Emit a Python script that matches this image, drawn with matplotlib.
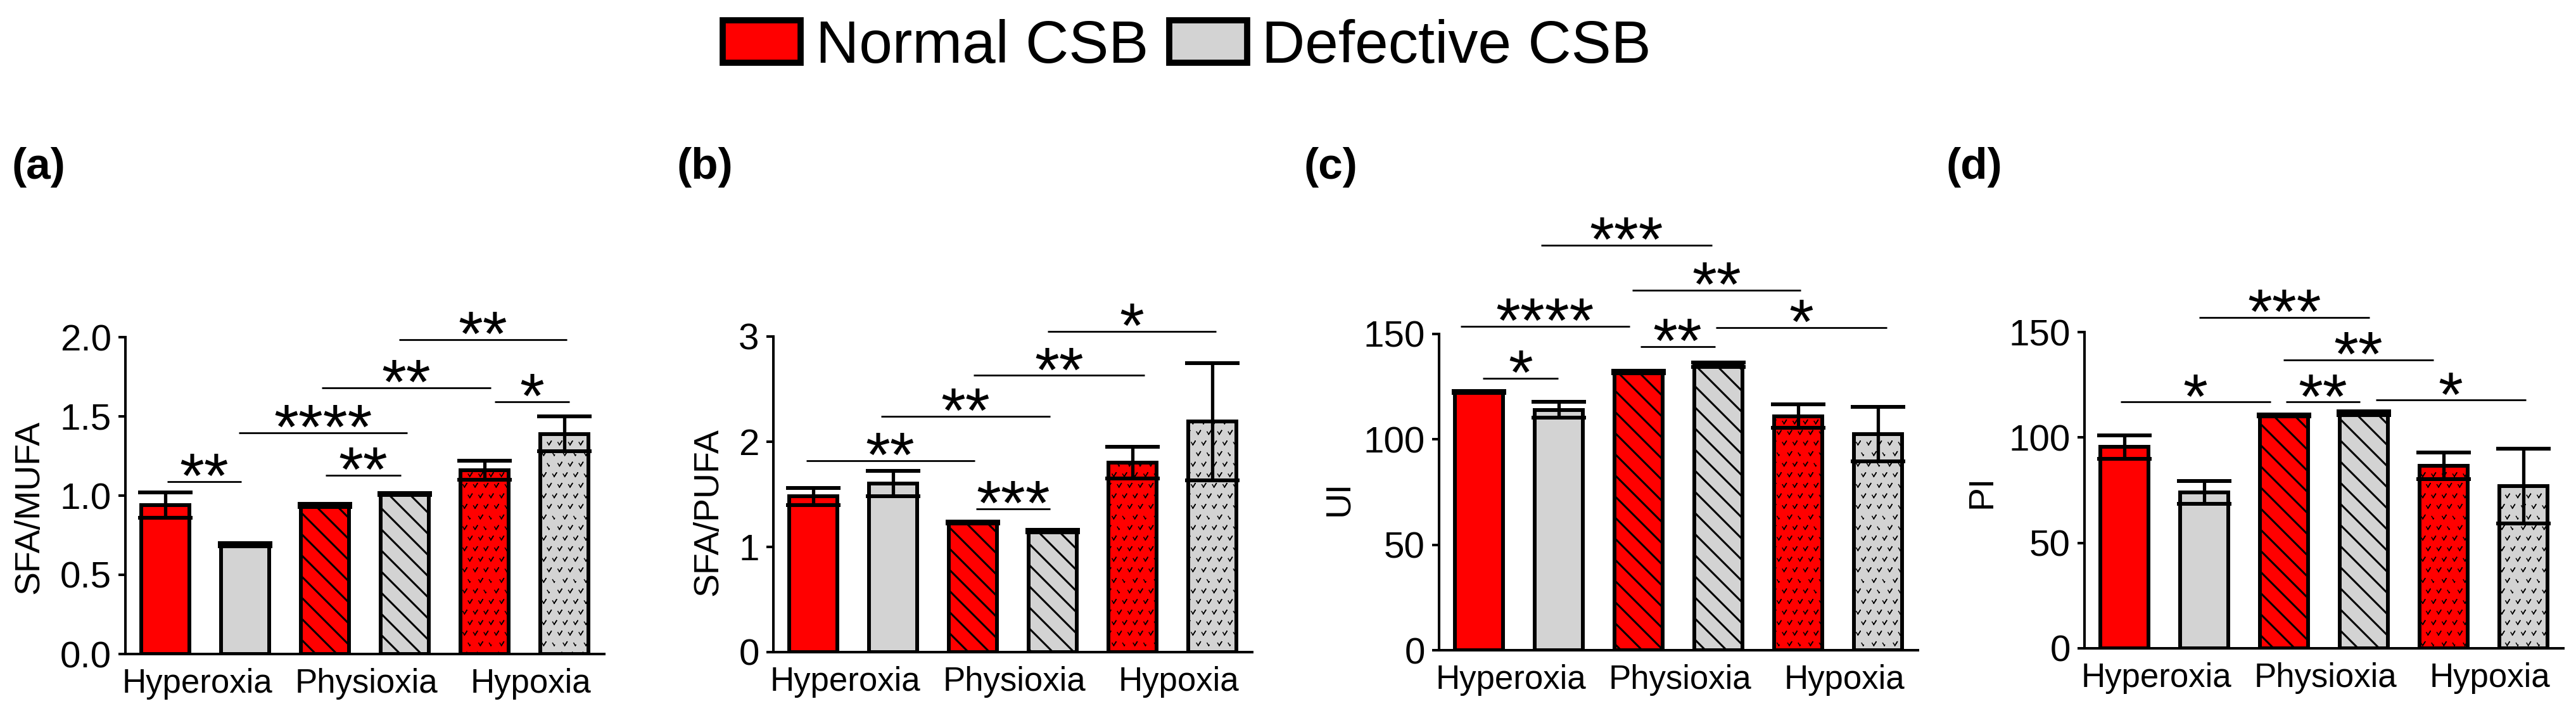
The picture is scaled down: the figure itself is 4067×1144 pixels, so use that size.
import numpy as np
import matplotlib
matplotlib.use('Agg')
import matplotlib.pyplot as plt
from matplotlib import hatch as mhatch
from matplotlib.path import Path
from matplotlib.patches import Patch

plt.rcParams['font.family'] = ['Liberation Sans', 'DejaVu Sans']
plt.rcParams['hatch.linewidth'] = 2.2


# small "v" marks used as the hypoxia texture (takes the place of the '*' hatch)
class VMarks(mhatch.Shapes):
    size = 0.3
    filled = True

    def __init__(self, hatch, density):
        # the row count has to stay even for the Shapes grid
        self.num_rows = int(hatch.count('*') * 6)
        self.shape_vertices = np.array([[-0.5, 0.4], [0.0, -0.4], [0.5, 0.4], [0.0, -0.4]])
        self.shape_codes = np.array([Path.MOVETO, Path.LINETO, Path.LINETO, Path.LINETO],
                                    dtype=Path.code_type)
        super().__init__(hatch, density)


mhatch._hatch_types[mhatch._hatch_types.index(mhatch.Stars)] = VMarks

# ---- data ----
conditions = ['Hyperoxia', 'Physioxia', 'Hypoxia']
strains = ['Normal CSB', 'Defective CSB']
strain_colors = ['#ff0000', '#d3d3d3']
condition_hatch = ['', '\\', '*']
hatch_lw = [2.2, 2.2, 1.1]

# bar order: Normal/Defective for Hyperoxia, Physioxia, Hypoxia
sfa_mufa = [0.94, 0.69, 0.94, 1.01, 1.16, 1.39]
sfa_mufa_err = [0.08, 0.01, 0.01, 0.006, 0.06, 0.11]
sfa_pufa = [1.48, 1.60, 1.23, 1.15, 1.80, 2.19]
sfa_pufa_err = [0.08, 0.12, 0.01, 0.01, 0.15, 0.56]
ui = [122.5, 114.0, 132.0, 135.5, 111.0, 102.5]
ui_err = [0.5, 3.7, 0.5, 1.0, 5.5, 12.8]
pi = [95.5, 74.0, 110.5, 111.5, 86.5, 77.0]
pi_err = [5.5, 5.5, 0.5, 0.8, 6.3, 17.7]

# significance brackets: (x start, x end, height, stars)
sig_a = [(0.02, 0.95, 1.09, '**'), (0.92, 3.03, 1.395, '****'), (2.01, 2.95, 1.128, '**'),
         (1.96, 4.08, 1.679, '**'), (4.13, 5.06, 1.593, '*'), (2.93, 5.03, 1.983, '**')]
sig_b = [(-0.09, 2.02, 1.82, '**'), (2.04, 2.97, 1.364, '***'), (0.85, 2.97, 2.24, '**'),
         (2.01, 4.15, 2.63, '**'), (2.94, 5.05, 3.05, '*')]
sig_c = [(0.05, 0.99, 129, '*'), (-0.23, 1.89, 153.7, '****'), (2.02, 2.96, 144, '**'),
         (2.97, 5.11, 153, '*'), (1.92, 4.03, 170.7, '**'), (0.78, 2.92, 192, '***')]
sig_d = [(-0.05, 1.83, 116.8, '*'), (2.02, 2.95, 116.8, '**'), (3.15, 5.03, 117.7, '*'),
         (1.99, 3.87, 136.7, '**'), (0.94, 3.07, 157, '***')]

W, H = 4067, 1144
panels = [
    dict(tag='(a)', vals=sfa_mufa, err=sfa_mufa_err, ylabel='SFA/MUFA', sig=sig_a,
         yticks=[0, 0.5, 1.0, 1.5, 2.0], fmt='{:.1f}',
         box=(198, 1032, 532), tagx=19, lab=(-0.200, 0.464)),
    dict(tag='(b)', vals=sfa_pufa, err=sfa_pufa_err, ylabel='SFA/PUFA', sig=sig_b,
         yticks=[0, 1, 2, 3], fmt='{:d}',
         box=(1221, 1029, 531), tagx=1068, lab=(-0.136, 0.444)),
    dict(tag='(c)', vals=ui, err=ui_err, ylabel='UI', sig=sig_c,
         yticks=[0, 50, 100, 150], fmt='{:d}',
         box=(2272, 1026, 527), tagx=2058, lab=(-0.209, 0.48)),
    dict(tag='(d)', vals=pi, err=pi_err, ylabel='PI', sig=sig_d,
         yticks=[0, 50, 100, 150], fmt='{:d}',
         box=(3291, 1023, 524), tagx=3073, lab=(-0.213, 0.495)),
]

fig = plt.figure(figsize=(W / 100, H / 100), dpi=100)

for p in panels:
    left, bot, top = p['box']
    ax = fig.add_axes([left / W, (H - bot) / H, 756 / W, (bot - top) / H])
    x = np.arange(6)
    bars = ax.bar(x, p['vals'], width=0.61, edgecolor='black', linewidth=4.3, zorder=2)
    for i, b in enumerate(bars):
        b.set_facecolor(strain_colors[i % 2])
        b.set_hatch(condition_hatch[i // 2])
        if hasattr(b, 'set_hatch_linewidth'):
            b.set_hatch_linewidth(hatch_lw[i // 2])
    ax.errorbar(x, p['vals'], yerr=p['err'], fmt='none', ecolor='black',
                elinewidth=3.8, capsize=31, capthick=4.3, zorder=3)

    ax.set_xlim(-0.5, 5.5)
    ax.set_ylim(0, p['yticks'][-1])
    ax.set_yticks(p['yticks'])
    ax.set_yticklabels([p['fmt'].format(t) for t in p['yticks']])
    ax.set_xticks([0.4, 2.52, 4.58])
    ax.set_xticklabels(conditions)
    for s in ['top', 'right']:
        ax.spines[s].set_visible(False)
    for s in ['left', 'bottom']:
        ax.spines[s].set_linewidth(2.9)
    ax.tick_params(axis='y', direction='out', length=8, width=2.9, labelsize=42, pad=8)
    ax.tick_params(axis='x', length=0, labelsize=38, pad=16)
    ax.set_ylabel(p['ylabel'], fontsize=40, va='center')
    ax.yaxis.set_label_coords(*p['lab'])

    for x1, x2, y, stars in p['sig']:
        ax.plot([x1, x2], [y, y], color='black', lw=2.0, clip_on=False,
                solid_capstyle='butt', zorder=4)
        ax.annotate(stars, xy=((x1 + x2) / 2, y), xytext=(0, -18),
                    textcoords='offset points', ha='center', va='baseline',
                    fontsize=72, annotation_clip=False)

    fig.text(p['tagx'] / W, 1 - 282 / H, p['tag'], fontsize=50, fontweight='bold',
             ha='left', va='baseline')

handles = [Patch(facecolor=c, edgecolor='black', linewidth=7, joinstyle='round')
           for c in strain_colors]
fig.legend(handles, strains, loc='center', bbox_to_anchor=(1874 / W, 1 - 74 / H),
           ncol=2, frameon=False, fontsize=68, handlelength=1.3, handleheight=0.7,
           handletextpad=0.25, columnspacing=0.35)

fig.savefig('out.png', dpi=100)
